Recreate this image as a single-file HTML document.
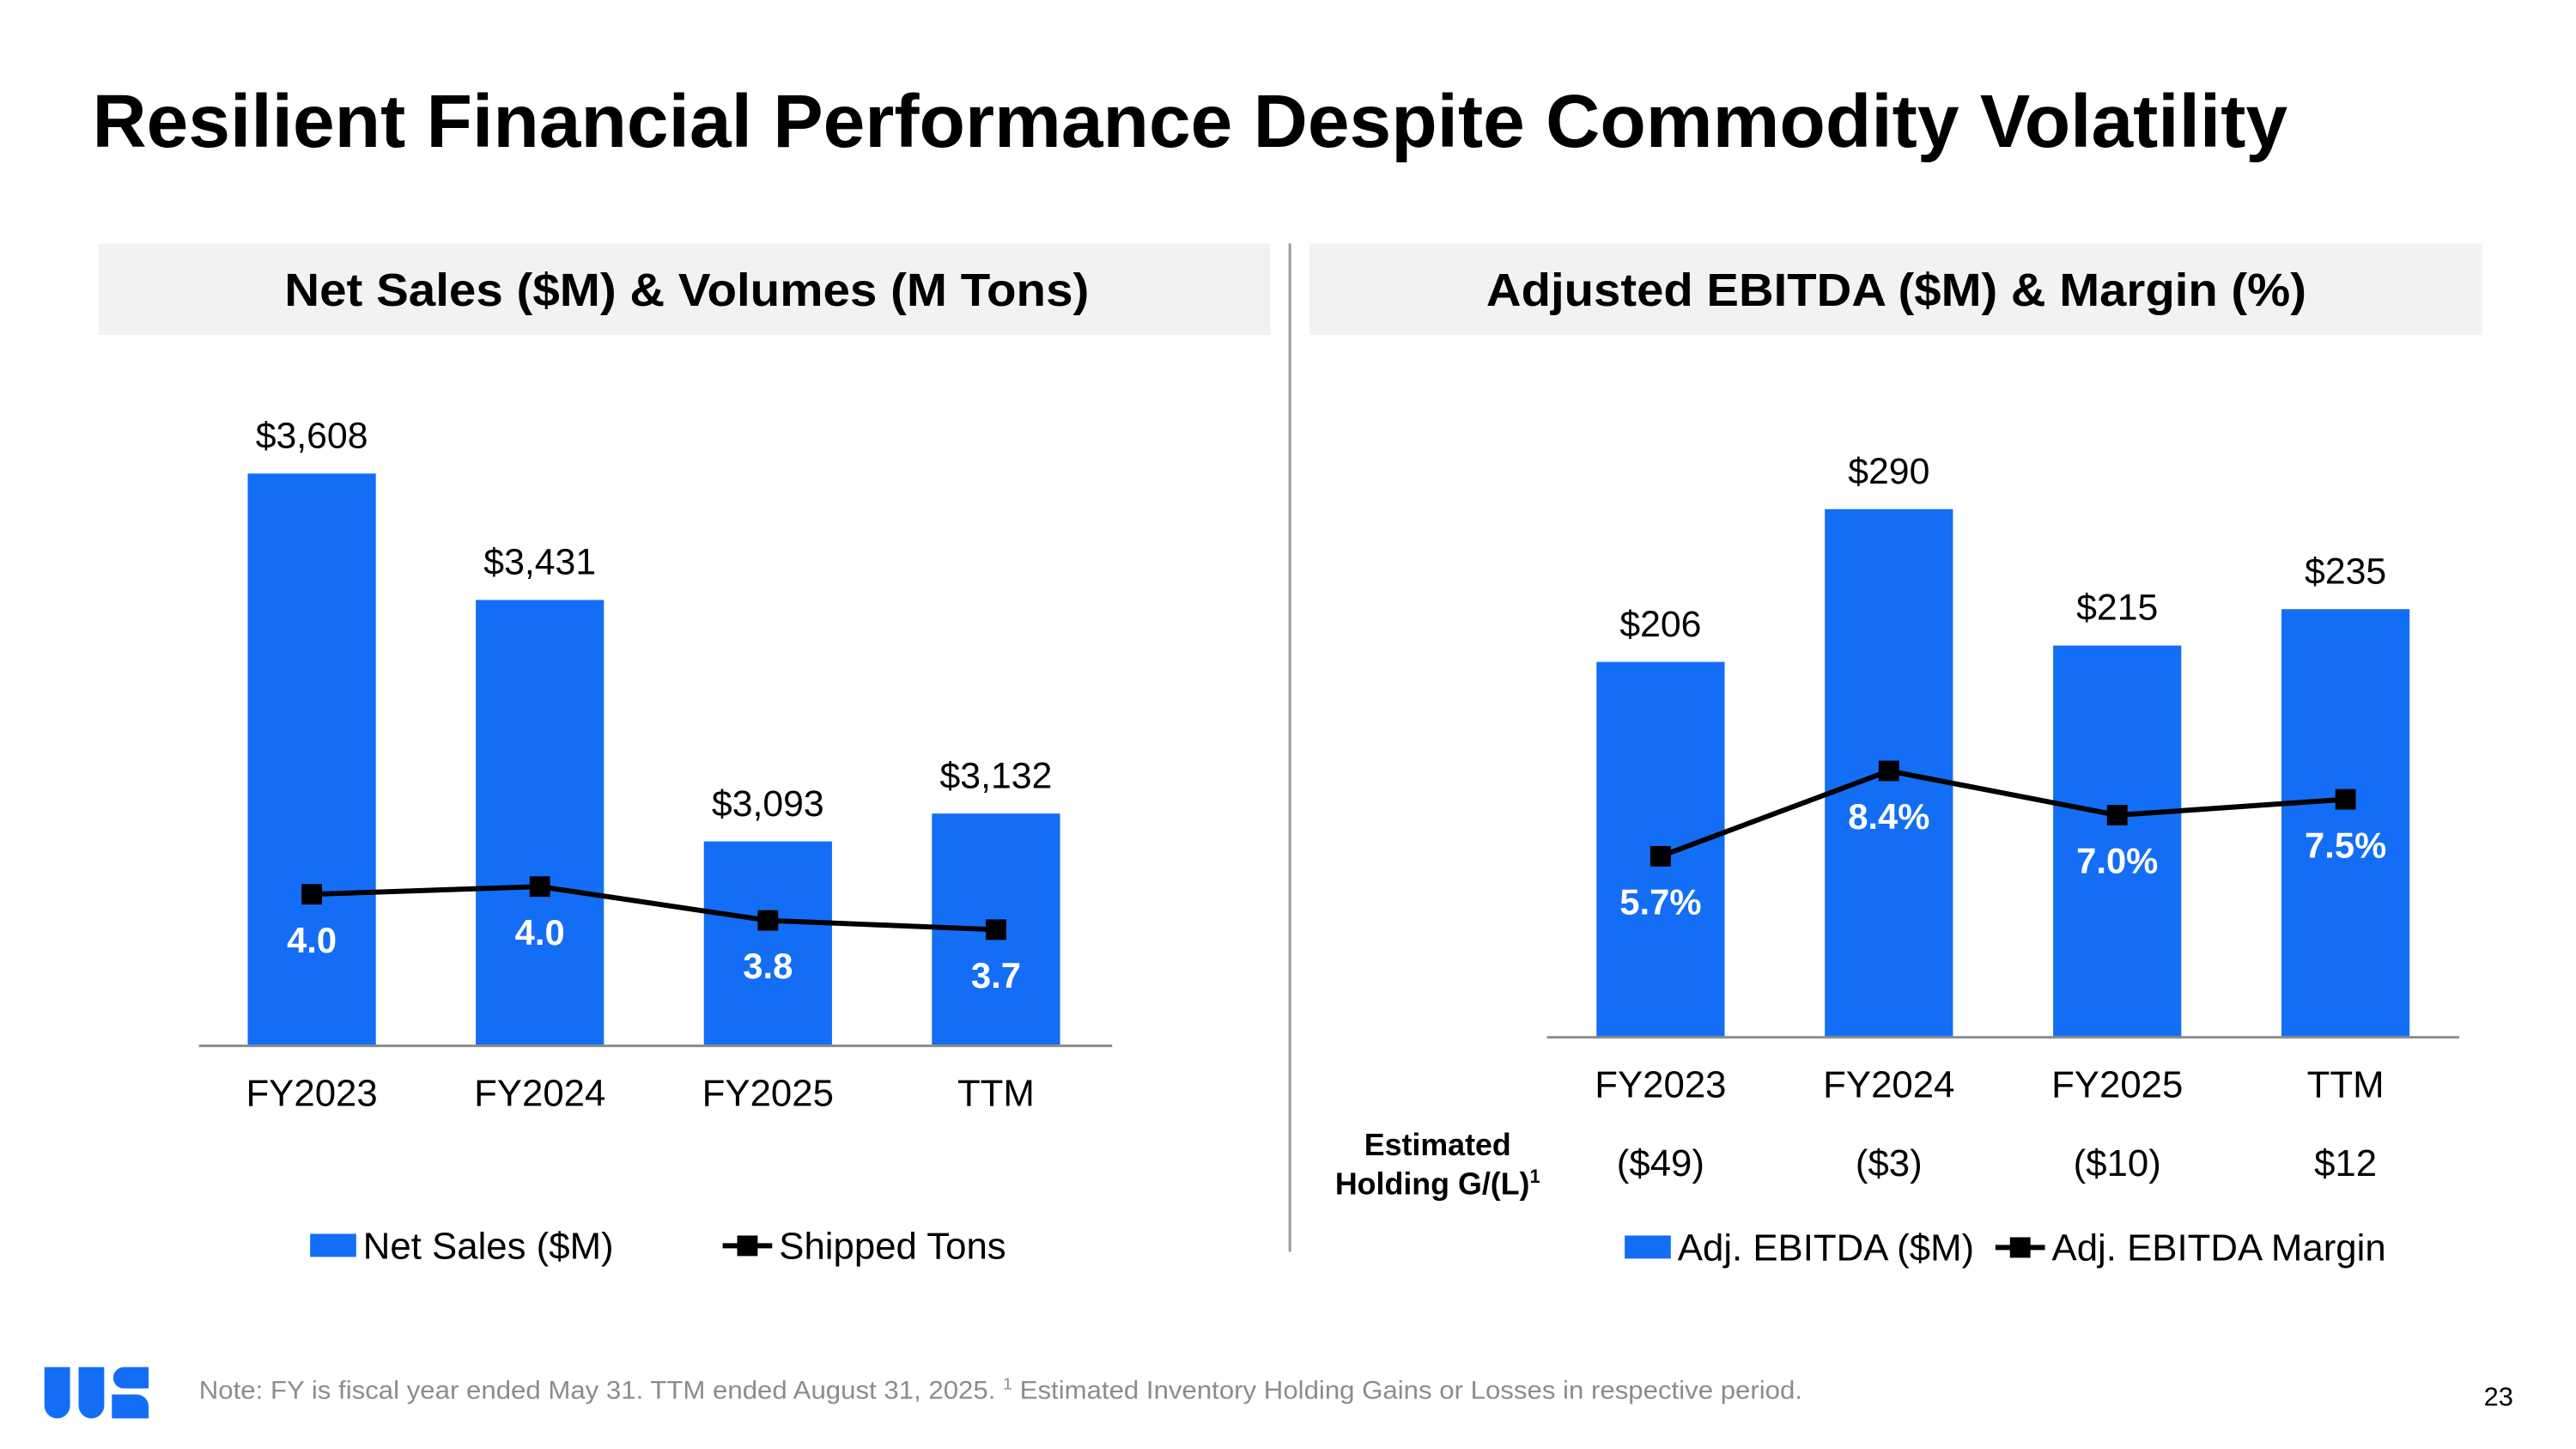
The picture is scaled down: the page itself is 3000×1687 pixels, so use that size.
<!DOCTYPE html>
<html><head><meta charset="utf-8"><style>
html,body{margin:0;padding:0;background:#fff;}
svg{display:block;font-family:"Liberation Sans",Arial,sans-serif;}
</style></head><body>
<svg width="3000" height="1687" viewBox="0 0 3000 1687" xmlns="http://www.w3.org/2000/svg">
<g id="root" transform="scale(0.9948)">
<text x="108" y="172" font-size="88" font-weight="bold" fill="#000" textLength="2570" lengthAdjust="spacingAndGlyphs">Resilient Financial Performance Despite Commodity Volatility</text>

<rect x="115" y="285" width="1372" height="107" fill="#f2f2f2"/>
<text x="804" y="358" font-size="54" font-weight="bold" text-anchor="middle" textLength="942" lengthAdjust="spacingAndGlyphs">Net Sales ($M) &amp; Volumes (M Tons)</text>
<rect x="1533" y="285" width="1373" height="107" fill="#f2f2f2"/>
<text x="2220" y="358" font-size="54" font-weight="bold" text-anchor="middle" textLength="960" lengthAdjust="spacingAndGlyphs">Adjusted EBITDA ($M) &amp; Margin (%)</text>
<line x1="1510" y1="285" x2="1510" y2="1465" stroke="#999" stroke-width="3"/>

<g id="left"></g>
<g id="right"></g>

<text x="1683" y="1352" font-size="36" font-weight="bold" text-anchor="middle">Estimated</text>
<text x="1683" y="1398" font-size="36" font-weight="bold" text-anchor="middle">Holding G/(L)<tspan font-size="22" dy="-14">1</tspan></text>

<g>
<path d="M52 1600 H82 V1645 A15 15 0 0 1 52 1645 Z" fill="#146ef5"/>
<path d="M92 1600 H122 V1645 A15 15 0 0 1 92 1645 Z" fill="#146ef5"/>
<path d="M145 1600 H174 V1625 H145 A12.5 12.5 0 0 1 145 1600 Z" fill="#146ef5"/>
<path d="M131 1632 H160 A14 14 0 0 1 174 1646 V1660 H131 Z" fill="#146ef5"/>
</g>
<text x="233" y="1637" font-size="30" fill="#8c8c8c" textLength="1877" lengthAdjust="spacingAndGlyphs">Note: FY is fiscal year ended May 31. TTM ended August 31, 2025.  <tspan font-size="19" dy="-11">1</tspan><tspan dy="11"> Estimated Inventory Holding Gains or Losses in respective period.</tspan></text>
<text x="2925" y="1645" font-size="31" text-anchor="middle" fill="#000">23</text>
</g>
</svg>
<script>
const categories = ["FY2023","FY2024","FY2025","TTM"];
const netSales = [3608, 3431, 3093, 3132];
const netSalesLabels = ["$3,608","$3,431","$3,093","$3,132"];
const shippedTons = [3.97, 4.02, 3.80, 3.74];
const shippedTonsLabels = ["4.0","4.0","3.8","3.7"];
const ebitda = [206, 290, 215, 235];
const ebitdaLabels = ["$206","$290","$215","$235"];
const margin = [5.7, 8.4, 7.0, 7.5];
const marginLabels = ["5.7%","8.4%","7.0%","7.5%"];
const holding = ["($49)","($3)","($10)","$12"];

const NS="http://www.w3.org/2000/svg";
const BLUE="#146ef5";
function mk(parent, tag, attrs, text){
  const e=document.createElementNS(NS,tag);
  for(const k in attrs) e.setAttribute(k,attrs[k]);
  if(text!==undefined) e.textContent=text;
  parent.appendChild(e); return e;
}
function drawChart(g, cfg){
  const xs = i => cfg.x0 + i*cfg.step;
  const yBar = v => cfg.base - (v - cfg.barMin)*cfg.barK;
  const yLine = v => cfg.lineBase - (v - cfg.lineMin)*cfg.lineK;
  cfg.bars.forEach((v,i)=>{
    const r=mk(g,'rect',{x:xs(i)-75,y:yBar(v),width:150,height:cfg.base-yBar(v),fill:BLUE});
    
    
    const t=mk(g,'text',{x:xs(i),y:yBar(v)-30,'font-size':43,'text-anchor':'middle'},cfg.barLabels[i]);
    
    
    const c=mk(g,'text',{x:xs(i),y:cfg.catY,'font-size':44,'text-anchor':'middle'},categories[i]);
    
    
  });
  const ax=mk(g,'line',{x1:cfg.axL,x2:cfg.axR,y1:cfg.base+1,y2:cfg.base+1,stroke:'#8c8c8c','stroke-width':3});
  
  
  const pts=cfg.line.map((v,i)=>xs(i)+','+yLine(v)).join(' ');
  const pl=mk(g,'polyline',{points:pts,fill:'none',stroke:'#000','stroke-width':6});
  
  
  cfg.line.forEach((v,i)=>{
    const m=mk(g,'rect',{x:xs(i)-12,y:yLine(v)-12,width:24,height:24,fill:'#000'});
    
    
    const t=mk(g,'text',{x:xs(i),y:yLine(v)+68,'font-size':42,'font-weight':'bold','text-anchor':'middle',fill:'#fff'},cfg.lineLabels[i]);
    
    
  });
}
drawChart(document.getElementById('left'),{x0:365,step:267,base:1223,barMin:2808,barK:0.836,
  lineBase:1088,lineMin:3.74,lineK:180,bars:netSales,barLabels:netSalesLabels,line:shippedTons,
  lineLabels:shippedTonsLabels,catY:1294,axL:233,axR:1302});
drawChart(document.getElementById('right'),{x0:1944,step:267.3,base:1213,barMin:0,barK:2.128,
  lineBase:1213,lineMin:0,lineK:37,bars:ebitda,barLabels:ebitdaLabels,line:margin,
  lineLabels:marginLabels,catY:1284,axL:1811,axR:2879});
const root=document.getElementById('root');
holding.forEach((h,i)=>{
  const t=mk(root,'text',{x:1944+i*267.3,y:1376,'font-size':44,'text-anchor':'middle'},h);
  
  
});
function legendBar(x,y,label){
  const r=mk(root,'rect',{x:x,y:y-14,width:54,height:27,fill:BLUE});
  
  
  const t=mk(root,'text',{x:x+62,y:y+15,'font-size':44},label);
  
  
}
function legendLine(x,y,label){
  const l=mk(root,'line',{x1:x,x2:x+58,y1:y,y2:y,stroke:'#000','stroke-width':6});
  
  
  const m=mk(root,'rect',{x:x+17,y:y-12,width:24,height:24,fill:'#000'});
  
  
  const t=mk(root,'text',{x:x+66,y:y+15,'font-size':44},label);
  
  
}
legendBar(363,1458,'Net Sales ($M)');
legendLine(846,1458,'Shipped Tons');
legendBar(1902,1460,'Adj. EBITDA ($M)');
legendLine(2336,1460,'Adj. EBITDA Margin');
</script>
</body></html>
